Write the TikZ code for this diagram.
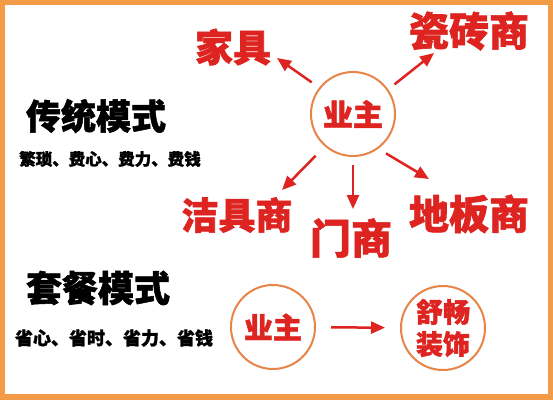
\documentclass[tikz,border=0pt]{standalone}
\usepackage{fontspec}
\newfontfamily\cjk[BoldFeatures={FakeBold=1.5}]{Noto Sans CJK SC}
\usetikzlibrary{arrows.meta,calc}
\definecolor{hred}{RGB}{222,36,32}
\definecolor{corange}{RGB}{232,132,72}
\definecolor{bframe}{RGB}{242,154,70}
\tikzset{
  redlbl/.style={text=hred, font=\cjk\bfseries\fontsize{#1}{#1}\selectfont, inner sep=0pt},
  blklbl/.style={text=black, font=\cjk\bfseries\fontsize{#1}{#1}\selectfont, inner sep=0pt},
  owncircle/.style={circle, draw=corange, line width=2pt, minimum size=84pt, inner sep=0pt},
  arr/.style={draw=hred, line width=2.5pt, -{Triangle[length=14pt,width=12pt]}}
}
\begin{document}
\begin{tikzpicture}[x=1pt,y=1pt]
\fill[bframe] (0,0) rectangle (553,400);
\fill[white] (5,6) rectangle (548,395);
\useasboundingbox (0,0) rectangle (553,400);

% traditional mode
\node[blklbl=35] (chuantong) at (96,284) {传统模式};
\node[blklbl=16.5] (fansuo) at (110,241) {繁琐、费心、费力、费钱};

\node[owncircle, redlbl=30] (owner) at (353,286) {业主};
\node[redlbl=38] (jiaju) at (233,353) {家具};
\node[redlbl=40] (cizhuan) at (469,369) {瓷砖商};
\node[redlbl=37] (jieju) at (237,185) {洁具商};
\node[redlbl=41] (men) at (351,162) {门商};
\node[redlbl=40] (diban) at (469,186) {地板商};

\draw[arr, shorten <=9pt] (owner.142) -- ($(jiaju.center)+(44,-11)$);
\draw[arr, shorten <=8pt] (owner.35) -- ($(cizhuan.center)+(-35,-22)$);
\draw[arr, shorten <=13pt] (owner.229) -- ($(jieju.center)+(45,25)$);
\draw[arr, shorten <=8pt] (owner.270) -- ($(men.center)+(2,29)$);
\draw[arr, shorten <=9pt] (owner.306) -- ($(diban.center)+(-40,35)$);

% package mode
\node[blklbl=36] (taocan) at (98,112) {套餐模式};
\node[blklbl=18] (sheng) at (114,62) {省心、省时、省力、省钱};

\node[owncircle, redlbl=29] (owner2) at (273,73) {业主};
\node[owncircle, redlbl=27, align=center, font=\cjk\bfseries\fontsize{27}{32}\selectfont] (shu) at (443,72) {舒畅\\装饰};
\draw[arr, shorten <=15pt, shorten >=15pt] (owner2) -- (shu);
\end{tikzpicture}
\end{document}
